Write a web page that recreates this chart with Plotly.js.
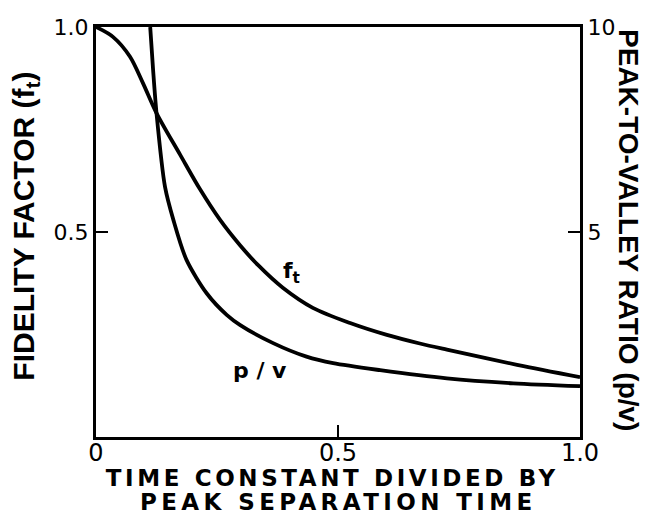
<!DOCTYPE html>
<html><head><meta charset="utf-8">
<script src="https://cdn.plot.ly/plotly-3.0.1.min.js"></script>
<style>html,body{margin:0;padding:0;background:#fff}#c{width:645px;height:514px}</style>
</head><body><div id="c"></div>
<script>
// Fidelity factor f_t (left axis)
const ftX = [0, 0.035, 0.070, 0.097, 0.125, 0.174, 0.215, 0.256, 0.298, 0.335, 0.386, 0.448, 0.525, 0.601, 0.669, 0.725, 0.870, 1.0];
const ftY = [1.0, 0.976, 0.928, 0.863, 0.790, 0.688, 0.604, 0.530, 0.467, 0.419, 0.364, 0.315, 0.278, 0.249, 0.228, 0.213, 0.176, 0.146];
// Peak-to-valley ratio p/v (right axis)
const pvX = [0.112, 0.118, 0.125, 0.1426, 0.160, 0.187, 0.229, 0.270, 0.298, 0.366, 0.435, 0.490, 0.587, 0.725, 0.862, 1.0];
const pvY = [10.0, 8.95, 7.90, 6.10, 5.29, 4.32, 3.50, 2.98, 2.73, 2.29, 1.96, 1.80, 1.63, 1.43, 1.31, 1.24];
// Tick labels
const xTickVals = [0, 0.5, 1.0];
const xTickText = ['0', '0.5', '1.0'];
const yTickVals = [0.5, 1.0];
const yTickText = ['0.5', '1.0'];
const y2TickVals = [5, 10];
const y2TickText = ['5', '10'];

const FONT = 'DejaVu Sans, sans-serif';
const NARROW = 'Liberation Sans Narrow, sans-serif';
const traces = [
  {x: ftX, y: ftY, mode: 'lines', line: {color: '#000', width: 3.8, shape: 'spline', smoothing: 0.9}, yaxis: 'y', showlegend: false, hoverinfo: 'skip'},
  {x: pvX, y: pvY, mode: 'lines', line: {color: '#000', width: 3.8, shape: 'spline', smoothing: 0.8}, yaxis: 'y2', showlegend: false, hoverinfo: 'skip'}
];
const layout = {
  width: 645, height: 514,
  margin: {l: 96, r: 65, t: 27, b: 77},
  paper_bgcolor: '#fff', plot_bgcolor: '#fff',
  font: {family: FONT, color: '#000'},
  xaxis: {range: [0, 1], tickvals: xTickVals, ticktext: xTickText, ticks: 'inside', ticklen: 12, tickwidth: 2, tickcolor: '#000',
          showline: true, linewidth: 3, linecolor: '#000', mirror: true, showgrid: false, zeroline: false,
          ticklabelstandoff: -8, tickfont: {size: 24, family: FONT}},
  yaxis: {range: [0, 1], tickvals: yTickVals, ticktext: yTickText, ticks: 'inside', ticklen: 12, tickwidth: 2, tickcolor: '#000',
          showline: true, linewidth: 3, linecolor: '#000', showgrid: false, zeroline: false,
          tickfont: {size: 22, family: FONT}},
  yaxis2: {range: [0, 10], overlaying: 'y', side: 'right', tickvals: y2TickVals, ticktext: y2TickText, ticks: 'inside', ticklen: 12, tickwidth: 2, tickcolor: '#000',
          showline: true, linewidth: 3, linecolor: '#000', showgrid: false, zeroline: false,
          tickfont: {size: 22, family: FONT}},
  annotations: [
    {text: 'f<sub>t</sub>', x: 0.403, y: 0.402, xref: 'x', yref: 'y', showarrow: false, font: {size: 22, family: FONT, weight: 'bold'}},
    {text: 'p / v', x: 0.339, y: 1.61, xref: 'x', yref: 'y2', showarrow: false, font: {size: 22, family: FONT, weight: 'bold'}},
    {text: 'FIDELITY FACTOR (f<sub>t</sub>)', x: -0.145, y: 0.515, xref: 'paper', yref: 'paper', textangle: -90, showarrow: false,
     xanchor: 'center', yanchor: 'middle', font: {size: 30, family: NARROW, weight: 'bold'}},
    {text: 'PEAK-TO-VALLEY RATIO (p/v)', x: 1.099, y: 0.505, xref: 'paper', yref: 'paper', textangle: 90, showarrow: false,
     xanchor: 'center', yanchor: 'middle', font: {size: 28, family: NARROW, weight: 'bold'}},
    {text: 'TIME CONSTANT DIVIDED BY', x: 0.488, y: -0.100, xref: 'paper', yref: 'paper', showarrow: false,
     xanchor: 'center', yanchor: 'middle', font: {size: 23, family: FONT, weight: 'bold'}},
    {text: 'PEAK SEPARATION TIME', x: 0.502, y: -0.158, xref: 'paper', yref: 'paper', showarrow: false,
     xanchor: 'center', yanchor: 'middle', font: {size: 23, family: FONT, weight: 'bold'}}
  ]
};
Plotly.newPlot('c', traces, layout, {displayModeBar: false, staticPlot: true}).then(function () {
  const spacing = {4: '3.6px', 5: '4.4px'};
  Object.keys(spacing).forEach(function (i) {
    document.querySelectorAll('.annotation[data-index="' + i + '"] text').forEach(function (t) {
      t.setAttribute('letter-spacing', spacing[i]);
      t.style.letterSpacing = spacing[i];
    });
  });
});
</script></body></html>
